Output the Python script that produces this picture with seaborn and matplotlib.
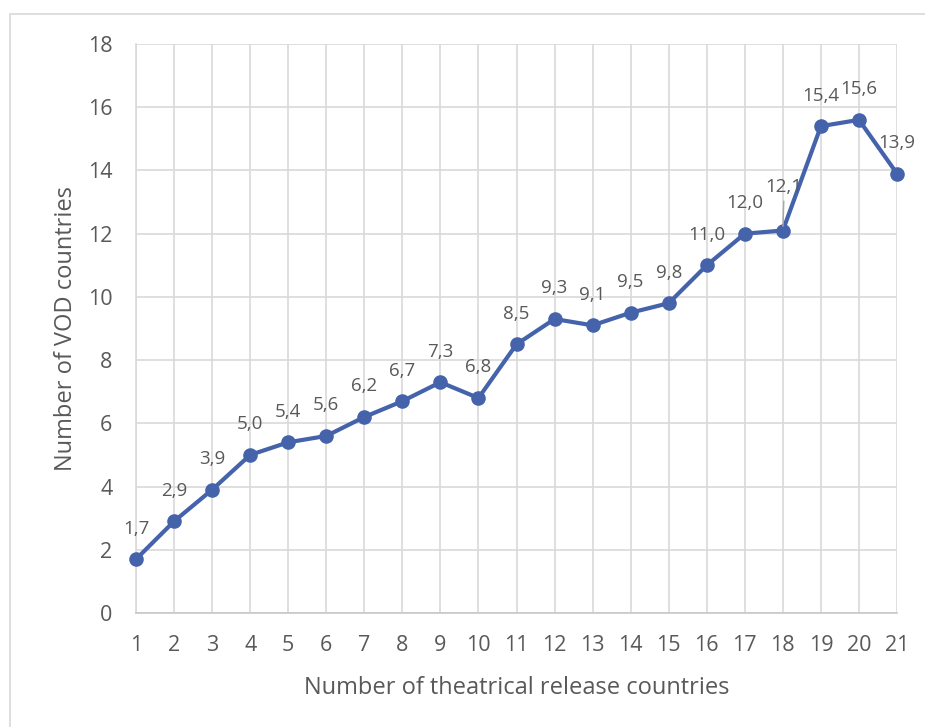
import matplotlib
matplotlib.use("Agg")
import matplotlib.pyplot as plt
import seaborn as sns
import pandas as pd
from matplotlib.patches import Rectangle

# Average number of VOD countries by number of theatrical release countries
theatrical_countries = list(range(1, 22))
vod_countries = [1.7, 2.9, 3.9, 5.0, 5.4, 5.6, 6.2, 6.7, 7.3, 6.8, 8.5,
                 9.3, 9.1, 9.5, 9.8, 11.0, 12.0, 12.1, 15.4, 15.6, 13.9]
y_ticks = [0, 2, 4, 6, 8, 10, 12, 14, 16, 18]

df = pd.DataFrame({"theatrical": theatrical_countries, "vod": vod_countries})

sns.set_theme(style="white")
plt.rcParams["font.family"] = ["Open Sans", "DejaVu Sans"]

LINE = "#4563AA"
TEXT = "#595959"
GRID = "#D9D9D9"

fig = plt.figure(figsize=(9.25, 7.27), dpi=100)
fig.patch.set_facecolor("white")
ax = fig.add_axes([136 / 925, 1 - 613 / 727, (897 - 136) / 925, (613 - 44) / 727])

sns.lineplot(data=df, x="theatrical", y="vod", ax=ax, color=LINE, linewidth=3,
             marker="o", markersize=10.5, markeredgecolor=LINE, markeredgewidth=0,
             zorder=3, clip_on=False)

ax.set_xlim(1, 21)
ax.set_ylim(0, 18)
ax.set_xticks(theatrical_countries)
ax.set_yticks(y_ticks)
ax.grid(True, color=GRID, linewidth=1.2)
ax.set_axisbelow(True)
for side in ["top", "right"]:
    ax.spines[side].set_visible(False)
for side in ["left", "bottom"]:
    ax.spines[side].set_color(GRID)
    ax.spines[side].set_linewidth(1.2)
ax.spines["bottom"].set_color("#C8C8C8")

ax.tick_params(axis="both", length=0, labelsize=15.5, labelcolor=TEXT)
ax.tick_params(axis="y", pad=17)
ax.tick_params(axis="x", pad=16)

ax.set_xlabel("Number of theatrical release countries", fontsize=17, color=TEXT,
              labelpad=14)
ax.set_ylabel("Number of VOD countries", fontsize=17, color=TEXT, labelpad=7)

# Data labels (comma as decimal separator)
for i, (x, y) in enumerate(zip(theatrical_countries, vod_countries)):
    label = f"{y:.1f}".replace(".", ",")
    if x == 18:
        ax.annotate(label, (x, y), xytext=(1, 31), textcoords="offset points",
                    ha="center", va="center", fontsize=13.5, color=TEXT,
                    zorder=4,
                    arrowprops=dict(arrowstyle="-", color="#A6A6A6", lw=1,
                                    shrinkA=1, shrinkB=3))
    else:
        ax.annotate(label, (x, y), xytext=(0, 22), textcoords="offset points",
                    ha="center", va="center", fontsize=13.5, color=TEXT)

# Chart area border
fig.patches.append(Rectangle((10 / 925, -0.1), 2, (727 - 14) / 727 + 0.1,
                             transform=fig.transFigure, fill=False,
                             edgecolor=GRID, linewidth=1.2))

fig.savefig("out.png", dpi=100, facecolor="white")
